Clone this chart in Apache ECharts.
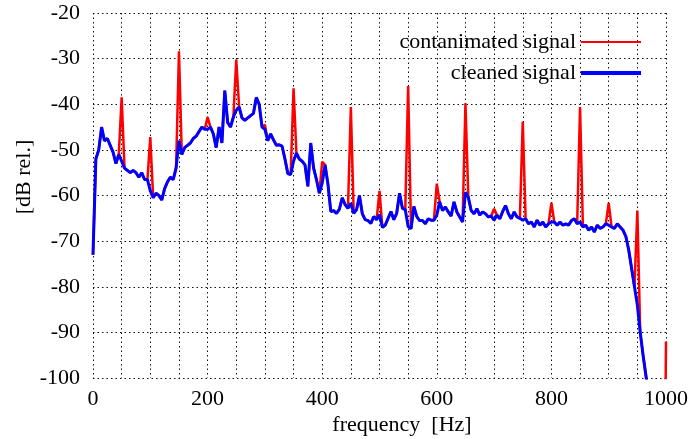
<!DOCTYPE html>
<html>
<head>
<meta charset="utf-8">
<script src="https://cdn.jsdelivr.net/npm/echarts@6/dist/echarts.min.js"></script>
<style>
html,body{margin:0;padding:0;background:#fff;}
#chart{width:691px;height:439px;}
</style>
</head>
<body>
<div id="chart"></div>
<script>
// Frequency step of the spectrum (Hz)
const freqStep = 5;
// Cleaned spectrum [dB rel.], one value every 5 Hz starting at 0 Hz
const cleaned = [
  -73, -52, -50, -45, -48, -47.5, -49, -50.5, -53, -51,
  -52.5, -54, -54.5, -55, -54.5, -55, -56, -55, -56.5, -56.5,
  -59, -60.5, -59.5, -60, -61, -58.5, -57, -56, -56.5, -54,
  -48, -51, -49.5, -49, -48.5, -47.5, -47, -46, -45, -45.5,
  -45.5, -45, -46.5, -49.5, -45, -48.5, -37, -44, -45, -42.8,
  -41.3, -40.6, -43, -43.5, -43, -42.5, -42, -38.5, -40, -45,
  -45.5, -48, -46.5, -47.8, -49, -48.9, -49.2, -52, -55.2, -55.4,
  -52.5, -50.7, -52, -52.5, -53.3, -58, -48.5, -54, -56.5, -59.5,
  -57.3, -53.3, -57.5, -63.5, -63.3, -63.9, -63, -60.5, -62, -62.8,
  -61.7, -63.9, -63.1, -60, -64, -65.3, -65.5, -66.1, -64.6, -65.3,
  -64.2, -67, -66.5, -65, -63.5, -65.3, -63.9, -59.5, -62.8, -63.1,
  -66.8, -67.3, -62.4, -64.6, -65.5, -65.5, -66.2, -65.1, -65.4, -65.4,
  -64.3, -61.4, -63.3, -62.5, -63.6, -64.5, -61.4, -63.6, -64.7, -65.8,
  -59.3, -60.4, -63.3, -64, -62.9, -64.3, -63.6, -64, -64.7, -64.5,
  -65.4, -64.3, -65.1, -63.5, -62.2, -64, -65.1, -63.6, -64.7, -65,
  -65.4, -65.1, -66.2, -65.8, -66.9, -65.4, -66.5, -65.8, -66.9, -66.2,
  -65.8, -65.8, -66.5, -65.8, -66.5, -66.2, -66.5, -65.5, -65.1, -66.2,
  -65.8, -66.9, -66.5, -67.6, -66.9, -68, -66.5, -67.2, -66.9, -66.2,
  -66.5, -66.9, -67.2, -66.2, -66.9, -67.6, -69, -72, -76, -80,
  -84, -90, -95, -99.5, -104
];
// Mains hum harmonics in the contaminated signal
const humFreqs = [50, 100, 150, 200, 250, 300, 350, 400, 450, 500, 550, 600, 650, 700, 750, 800, 850, 900, 950, 1000];
const humPeaks = [-38.5, -47.2, -28.4, -42.8, -30.2, -44.5, -36.5, -52.6, -40.6, -59, -36, -57.4, -39.8, -62.9, -43.8, -61.6, -40.6, -61.6, -63.3, -92];
// off-chart level just before the 1000 Hz line
const tailLevel = -106;

const xTicks = [0, 200, 400, 600, 800, 1000];
const yTicks = [-100, -90, -80, -70, -60, -50, -40, -30, -20];

const cleanedData = cleaned.map((v, i) => [i * freqStep, v]);
const contaminatedData = cleanedData.map(p => {
  const k = humFreqs.indexOf(p[0]);
  return k >= 0 ? [p[0], humPeaks[k]] : [p[0], p[1]];
});
const lastF = cleanedData[cleanedData.length - 1][0];
humFreqs.forEach((f, k) => {
  if (f > lastF) {
    contaminatedData.push([f - 1, tailLevel]);
    contaminatedData.push([f, humPeaks[k]]);
  }
});

const FONT = '"Liberation Serif", "Times New Roman", serif';
const chart = echarts.init(document.getElementById('chart'));
const dotted = { color: '#111', width: 1, type: [1.5, 3] };
chart.setOption({
  animation: false,
  backgroundColor: '#fff',
  grid: { left: 93, right: 24, top: 13, bottom: 61, containLabel: false },
  xAxis: {
    type: 'value', min: 0, max: 1000, interval: 50,
    axisLine: { show: false }, axisTick: { show: false },
    splitLine: { show: true, lineStyle: dotted },
    axisLabel: {
      color: '#000', fontFamily: FONT, fontSize: 22, margin: 10,
      formatter: v => xTicks.indexOf(v) >= 0 ? String(v) : ''
    }
  },
  yAxis: {
    type: 'value', min: -100, max: -20, interval: 10,
    axisLine: { show: false }, axisTick: { show: false },
    splitLine: { show: true, lineStyle: dotted },
    axisLabel: {
      color: '#000', fontFamily: FONT, fontSize: 22, margin: 13,
      formatter: v => yTicks.indexOf(v) >= 0 ? String(v) : ''
    }
  },
  legend: [
    {
      data: [{ name: 'contanimated signal', icon: 'rect' }],
      right: 45, top: 26, align: 'right', itemWidth: 60, itemHeight: 2,
      textStyle: { color: '#000', fontFamily: FONT, fontSize: 22, lineHeight: 22 }
    },
    {
      data: [{ name: 'cleaned signal', icon: 'rect' }],
      right: 45, top: 57, align: 'right', itemWidth: 60, itemHeight: 4,
      textStyle: { color: '#000', fontFamily: FONT, fontSize: 22, lineHeight: 22 }
    }
  ],
  graphic: [
    {
      type: 'text', x: 402, y: 425,
      style: { text: 'frequency  [Hz]', font: '22px ' + FONT, fill: '#000',
               textAlign: 'center', textVerticalAlign: 'middle', align: 'center', verticalAlign: 'middle' }
    },
    {
      type: 'text', x: 24, y: 177, rotation: Math.PI / 2,
      style: { text: '[dB rel.]', font: '22px ' + FONT, fill: '#000',
               textAlign: 'center', textVerticalAlign: 'middle', align: 'center', verticalAlign: 'middle' }
    }
  ],
  series: [
    {
      name: 'contanimated signal', type: 'line', data: contaminatedData,
      showSymbol: false, symbol: 'none', clip: true,
      lineStyle: { color: '#ff0000', width: 2.5 }, itemStyle: { color: '#ff0000' }
    },
    {
      name: 'cleaned signal', type: 'line', data: cleanedData,
      showSymbol: false, symbol: 'none', clip: true,
      lineStyle: { color: '#0000ff', width: 3 }, itemStyle: { color: '#0000ff' }
    }
  ]
});
</script>
</body>
</html>
